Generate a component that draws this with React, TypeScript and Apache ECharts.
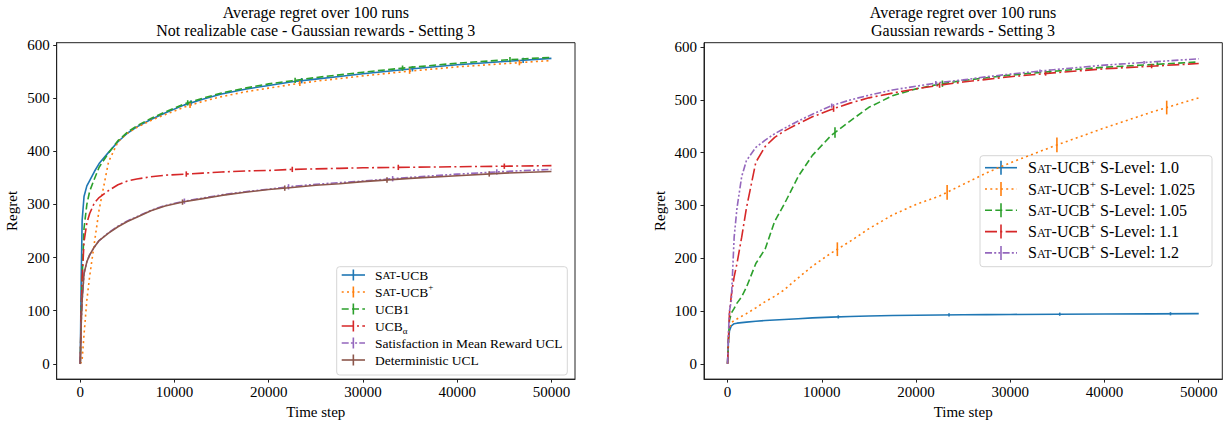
import React, { useEffect, useRef } from "react";
import * as echarts from "echarts";

const FONT = '"Liberation Serif", "DejaVu Serif", serif';

// shared time steps
const steps = [0, 100, 200, 400, 700, 1000, 1500, 2000, 3000, 4000, 5000, 6000, 7500, 9000, 11000, 13000, 15000, 17500, 20000, 22500, 25000, 27500, 30000, 35000, 40000, 45000, 50000];

// Left panel: Not realizable case
const satUcb = [0, 160, 270, 315, 335, 345, 362, 377, 398, 418, 434, 446, 460, 472, 487, 498, 508, 517, 524, 531, 536, 541, 546, 555, 563, 569, 575];
const satUcbPlus = [0, 3, 8, 55, 120, 165, 228, 290, 380, 418, 434, 445, 458, 469, 483, 494, 503, 512, 519, 526, 532, 537, 542, 551, 559, 565, 571];
const ucb1 = [0, 90, 160, 255, 300, 325, 348, 370, 397, 420, 436, 448, 462, 474, 489, 500, 510, 519, 527, 533, 539, 544, 549, 558, 566, 572, 577];
const ucbAlpha = [0, 100, 160, 230, 265, 283, 303, 313, 326, 337, 344, 348, 352, 355, 357, 359, 361, 363, 364, 366, 367, 368, 369, 370, 371, 372, 373];
const satMeanUcl = [0, 75, 120, 170, 192, 205, 220, 232, 247, 259, 269, 277, 289, 298, 306, 312, 318, 324, 329, 334, 338, 341, 344, 351, 357, 362, 366];
const detUcl = [0, 75, 120, 170, 192, 205, 220, 232, 246, 258, 268, 276, 288, 297, 305, 311, 317, 323, 328, 332, 336, 339, 343, 349, 354, 359, 362];

// Right panel: S-levels
const sl100 = [0, 45, 62, 72, 76, 77, 78, 79, 80.5, 82, 83, 84, 85.5, 87, 88.5, 89.5, 90.5, 91.5, 92, 92.5, 93, 93.2, 93.5, 94, 94.3, 94.6, 95];
const sl1025 = [0, 40, 68, 78, 82, 85, 90, 95, 106, 118, 128, 140, 163, 185, 210, 232, 256, 282, 302, 318, 340, 362, 381, 415, 447, 477, 504];
const sl105 = [0, 50, 82, 96, 105, 115, 127, 145, 190, 218, 270, 302, 355, 395, 433, 460, 486, 508, 521, 530, 537, 542, 547, 555, 562, 567, 572];
const sl110 = [0, 50, 95, 130, 165, 190, 240, 295, 382, 412, 429, 441, 455, 468, 482, 494, 504, 513, 521, 528, 534, 539, 544, 552, 559, 564, 569];
const sl120 = [0, 60, 100, 120, 240, 295, 355, 385, 410, 424, 436, 446, 460, 473, 489, 500, 509, 519, 526, 533, 538, 544, 549, 558, 566, 572, 578];

// error bar positions (time step) and half widths
const barsA = [11750, 23500, 35250, 47000];
const barsB = [11650, 23300, 34950, 46600];
const barsC = [11400, 22800, 34200, 45600];
const barsD = [11250, 22500, 33750, 45000];
const barsE = [11050, 22100, 33150, 44200];
const barsF = [10850, 21700, 32550, 43400];
const errLeft = [5, 5, 5, 5];
const errR100 = [3, 3, 3, 3];
const errR1025 = [13, 14, 14, 13];
const errR105 = [10, 6, 4, 4];
const errR110 = [6, 5, 4, 4];
const errR120 = [4, 4, 3, 3];

const xTicks = [0, 10000, 20000, 30000, 40000, 50000];
const yTicks = [0, 100, 200, 300, 400, 500, 600];

const C = {
  blue: "#1f77b4",
  orange: "#ff7f0e",
  green: "#2ca02c",
  red: "#d62728",
  purple: "#9467bd",
  brown: "#8c564b",
};
const DASH = {
  solid: "solid" as any,
  dotted: [2, 3.3],
  dashed: [7, 3.3],
  dashdot: [12, 3.3, 2, 3.3],
  dashdotdot: [7, 2.2, 2, 2.2, 2, 2.2],
};

function at(values: number[], x: number) {
  for (let i = 0; i < steps.length - 1; i++) {
    if (x >= steps[i] && x <= steps[i + 1]) {
      const t = (x - steps[i]) / (steps[i + 1] - steps[i]);
      return values[i] + t * (values[i + 1] - values[i]);
    }
  }
  return values[values.length - 1];
}

function line(name: string, values: number[], color: string, dash: any, g: number, z: number) {
  return {
    type: "line",
    name,
    xAxisIndex: g,
    yAxisIndex: g,
    data: steps.map((s, i) => [s, values[i]]),
    symbol: "none",
    showSymbol: false,
    lineStyle: { color, width: 1.6, type: dash },
    z,
    silent: true,
  };
}

function bars(values: number[], xs: number[], errs: number[], color: string, g: number, z: number) {
  return {
    type: "custom",
    xAxisIndex: g,
    yAxisIndex: g,
    data: xs.map((x, i) => [x, at(values, x), errs[i]]),
    encode: { x: 0, y: 1 },
    z,
    silent: true,
    renderItem: (params: any, api: any) => {
      const x = api.value(0);
      const c = api.value(1);
      const e = api.value(2);
      const p1 = api.coord([x, c - e]);
      const p2 = api.coord([x, c + e]);
      return {
        type: "line",
        shape: { x1: p1[0], y1: p1[1], x2: p2[0], y2: p2[1] },
        style: { stroke: color, lineWidth: 1.6 },
      };
    },
  };
}

function richStyles(fs: number) {
  const lh = Math.round(fs * 1.4);
  return {
    s: { fontFamily: FONT, fontSize: fs, color: "#000", lineHeight: lh },
    sc: { fontFamily: FONT, fontSize: Math.round(fs * 0.78), color: "#000", lineHeight: lh, verticalAlign: "bottom", padding: [0, 0, Math.round(fs * 0.28), 0] },
    sup: { fontFamily: FONT, fontSize: Math.round(fs * 0.7), color: "#000", verticalAlign: "top" },
    sub: { fontFamily: FONT, fontSize: Math.round(fs * 0.7), color: "#000", verticalAlign: "bottom" },
  };
}

const SAT = "{s|S}{sc|AT}{s|-UCB}";
const leftLabels = [
  SAT,
  SAT + "{sup|+}",
  "{s|UCB1}",
  "{s|UCB}{sub|α}",
  "{s|Satisfaction in Mean Reward UCL}",
  "{s|Deterministic UCL}",
];
const leftLegendColors = [C.blue, C.orange, C.green, C.red, C.purple, C.brown];
const leftLegendDash = [DASH.solid, DASH.dotted, DASH.dashed, DASH.dashdot, DASH.dashdotdot, DASH.solid];
const rightLevels = ["1.0", "1.025", "1.05", "1.1", "1.2"];
const rightLegendColors = [C.blue, C.orange, C.green, C.red, C.purple];
const rightLegendDash = [DASH.solid, DASH.dotted, DASH.dashed, DASH.dashdot, DASH.dashdotdot];

function legend(
  box: { x: number; y: number; w: number; h: number },
  rows: { y0: number; step: number; lx0: number; lx1: number; tx: number; bar: number; fs: number },
  labels: string[],
  colors: string[],
  dashes: any[]
) {
  const children: any[] = [
    {
      type: "rect",
      shape: { x: box.x, y: box.y, width: box.w, height: box.h, r: 3 },
      style: { fill: "rgba(255,255,255,0.85)", stroke: "#d6d6d6", lineWidth: 1 },
    },
  ];
  labels.forEach((lab, i) => {
    const y = rows.y0 + i * rows.step;
    const mid = (rows.lx0 + rows.lx1) / 2;
    const dash = dashes[i];
    children.push({
      type: "line",
      shape: { x1: rows.lx0, y1: y, x2: rows.lx1, y2: y },
      style: { stroke: colors[i], lineWidth: 1.6, lineDash: Array.isArray(dash) ? dash : null },
    });
    children.push({
      type: "line",
      shape: { x1: mid, y1: y - rows.bar, x2: mid, y2: y + rows.bar },
      style: { stroke: colors[i], lineWidth: 1.6 },
    });
    children.push({
      type: "text",
      x: rows.tx,
      y,
      style: {
        text: lab,
        rich: richStyles(rows.fs),
        textAlign: "left",
        textVerticalAlign: "middle",
        fill: "#000",
        font: `${rows.fs}px ${FONT}`,
      },
    });
  });
  return { type: "group", z: 100, children };
}

function xAxis(g: number) {
  return {
    type: "value",
    gridIndex: g,
    min: -2500,
    max: 52500,
    axisLine: { show: true, onZero: false, lineStyle: { color: "#222", width: 1 } },
    axisTick: { show: true, inside: false, length: 3.5, customValues: xTicks, lineStyle: { color: "#222" } },
    axisLabel: { customValues: xTicks, margin: 5, fontFamily: FONT, fontSize: 15, color: "#000", formatter: (v: number) => String(v) },
    splitLine: { show: false },
    name: "Time step",
    nameLocation: "middle",
    nameGap: 24,
    nameTextStyle: { fontFamily: FONT, fontSize: 15, color: "#000" },
  };
}

function yAxis(g: number, min: number, max: number) {
  return {
    type: "value",
    gridIndex: g,
    min,
    max,
    axisLine: { show: true, onZero: false, lineStyle: { color: "#222", width: 1 } },
    axisTick: { show: true, inside: false, length: 3.5, customValues: yTicks, lineStyle: { color: "#222" } },
    axisLabel: { customValues: yTicks, margin: 7, fontFamily: FONT, fontSize: 15, color: "#000", formatter: (v: number) => String(v) },
    splitLine: { show: false },
    name: "Regret",
    nameLocation: "middle",
    nameGap: 37,
    nameTextStyle: { fontFamily: FONT, fontSize: 15, color: "#000" },
  };
}

export default function App() {
  const ref = useRef<HTMLDivElement>(null);
  useEffect(() => {
    document.body.style.margin = "0";
    const chart = echarts.init(ref.current!, undefined, { renderer: "svg" });
    const option: any = {
      animation: false,
      backgroundColor: "#fff",
      grid: [
        { left: 56.7, top: 42.7, width: 518.3, height: 338, show: true, borderColor: "#222", borderWidth: 1, backgroundColor: "transparent" },
        { left: 704, top: 42.7, width: 518.3, height: 338, show: true, borderColor: "#222", borderWidth: 1, backgroundColor: "transparent" },
      ],
      xAxis: [xAxis(0), xAxis(1)],
      yAxis: [yAxis(0, -28.8, 604.5), yAxis(1, -29, 608.5)],
      series: [
        line("Sat-UCB", satUcb, C.blue, DASH.solid, 0, 2),
        bars(satUcb, barsA, errLeft, C.blue, 0, 2),
        line("Sat-UCB+", satUcbPlus, C.orange, DASH.dotted, 0, 3),
        bars(satUcbPlus, barsB, errLeft, C.orange, 0, 3),
        line("UCB1", ucb1, C.green, DASH.dashed, 0, 4),
        bars(ucb1, barsC, errLeft, C.green, 0, 4),
        line("UCB_alpha", ucbAlpha, C.red, DASH.dashdot, 0, 5),
        bars(ucbAlpha, barsD, errLeft, C.red, 0, 5),
        line("Satisfaction in Mean Reward UCL", satMeanUcl, C.purple, DASH.dashdotdot, 0, 6),
        bars(satMeanUcl, barsE, errLeft, C.purple, 0, 6),
        line("Deterministic UCL", detUcl, C.brown, DASH.solid, 0, 7),
        bars(detUcl, barsF, errLeft, C.brown, 0, 7),

        line("S-Level 1.0", sl100, C.blue, DASH.solid, 1, 2),
        bars(sl100, barsA, errR100, C.blue, 1, 2),
        line("S-Level 1.025", sl1025, C.orange, DASH.dotted, 1, 3),
        bars(sl1025, barsB, errR1025, C.orange, 1, 3),
        line("S-Level 1.05", sl105, C.green, DASH.dashed, 1, 4),
        bars(sl105, barsC, errR105, C.green, 1, 4),
        line("S-Level 1.1", sl110, C.red, DASH.dashdot, 1, 5),
        bars(sl110, barsD, errR110, C.red, 1, 5),
        line("S-Level 1.2", sl120, C.purple, DASH.dashdotdot, 1, 6),
        bars(sl120, barsE, errR120, C.purple, 1, 6),
      ],
      graphic: [
        {
          type: "text",
          x: 315.8,
          y: 3,
          z: 100,
          style: {
            text: "Average regret over 100 runs\nNot realizable case - Gaussian rewards - Setting 3",
            textAlign: "center",
            textVerticalAlign: "top",
            font: `16px ${FONT}`,
            lineHeight: 18,
            fill: "#000",
          },
        },
        {
          type: "text",
          x: 963,
          y: 3,
          z: 100,
          style: {
            text: "Average regret over 100 runs\nGaussian rewards - Setting 3",
            textAlign: "center",
            textVerticalAlign: "top",
            font: `16px ${FONT}`,
            lineHeight: 18,
            fill: "#000",
          },
        },
        legend(
          { x: 336.7, y: 266.7, w: 230.6, h: 108.3 },
          { y0: 275, step: 17, lx0: 341.7, lx1: 365, tx: 375, bar: 5.5, fs: 13.5 },
          leftLabels,
          leftLegendColors,
          leftLegendDash
        ),
        legend(
          { x: 980, y: 155.7, w: 232, h: 111 },
          { y0: 167.7, step: 21.3, lx0: 985, lx1: 1017, tx: 1028, bar: 7, fs: 16 },
          rightLevels.map((l) => SAT + "{sup|+}{s| S-Level: " + l + "}"),
          rightLegendColors,
          rightLegendDash
        ),
      ],
    };
    chart.setOption(option);
    return () => chart.dispose();
  }, []);
  return <div ref={ref} style={{ width: 1228, height: 424 }} />;
}
